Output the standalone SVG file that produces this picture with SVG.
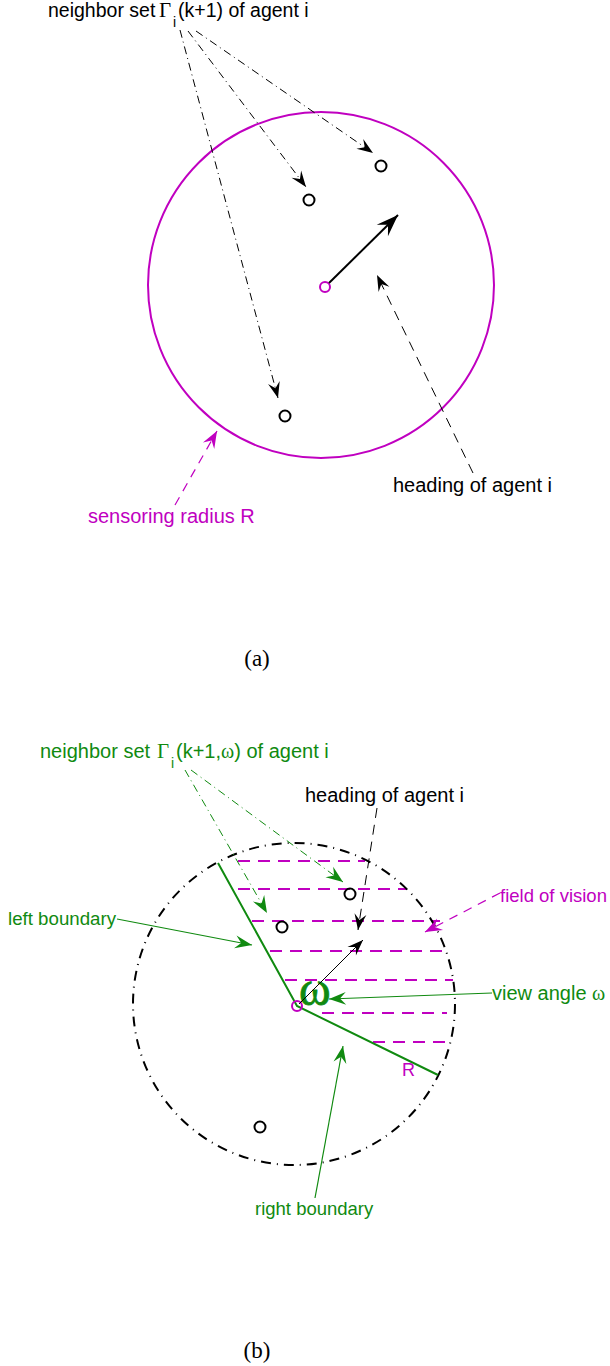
<svg xmlns="http://www.w3.org/2000/svg" width="610" height="1366" viewBox="0 0 610 1366">
<style>
.t{font-family:"Liberation Sans",Arial,sans-serif;}
.s{font-family:"Liberation Serif","Times New Roman",serif;}
.blk{fill:#000;}
.mag{fill:#c000c0;}
.grn{fill:#108a10;}
.dd{fill:none;stroke:#000;stroke-width:1;stroke-dasharray:8 4 1 4;}
.ddg{fill:none;stroke:#108a10;stroke-width:1;stroke-dasharray:8 4 1 4;}
.ds{fill:none;stroke:#000;stroke-width:1;stroke-dasharray:10 7;}
.dm{fill:none;stroke:#c000c0;stroke-width:1.2;stroke-dasharray:9 7;}
.hatch{fill:none;stroke:#c000c0;stroke-width:2;stroke-dasharray:12 8;}
.nb{fill:none;stroke:#000;stroke-width:2;}
.ag{fill:none;stroke:#c000c0;stroke-width:2;}
</style>
<defs>
<marker id="ahL" markerUnits="userSpaceOnUse" orient="auto" refX="0" refY="0" markerWidth="1" markerHeight="1" overflow="visible"><path d="M0,0 L-22,-8 L-14,0 L-22,8 Z" fill="#000"/></marker>
<marker id="ahB" markerUnits="userSpaceOnUse" orient="auto" refX="0" refY="0" markerWidth="1" markerHeight="1" overflow="visible"><path d="M0,0 L-16,-6 L-10,0 L-16,6 Z" fill="#000"/></marker>
<marker id="ahG" markerUnits="userSpaceOnUse" orient="auto" refX="0" refY="0" markerWidth="1" markerHeight="1" overflow="visible"><path d="M0,0 L-17,-6.5 L-11,0 L-17,6.5 Z" fill="#108a10"/></marker>
<marker id="ahM" markerUnits="userSpaceOnUse" orient="auto" refX="0" refY="0" markerWidth="1" markerHeight="1" overflow="visible"><path d="M0,0 L-17,-6.5 L-11,0 L-17,6.5 Z" fill="#c000c0"/></marker>
</defs>

<!-- Part (a) -->
<g id="a-sensing-circle"><circle cx="321" cy="285" r="173" fill="none" stroke="#c000c0" stroke-width="2"/></g>
<g id="a-agent"><circle cx="325" cy="287" r="5" class="ag"/></g>
<g id="a-neighbor1"><circle cx="381" cy="166" r="5.5" class="nb"/></g>
<g id="a-neighbor2"><circle cx="309" cy="200" r="5.5" class="nb"/></g>
<g id="a-neighbor3"><circle cx="285" cy="416" r="5.5" class="nb"/></g>
<g id="a-label-neighbor">
<text class="t blk" font-size="19.5" x="48" y="17">neighbor set</text>
<text class="s blk" font-size="21" x="159" y="17">Γ</text>
<text class="t blk" font-size="14" x="173" y="27">i</text>
<text class="t blk" font-size="19.5" x="178" y="17">(k+1) of agent i</text>
</g>
<g id="a-label-heading"><text class="t blk" font-size="20" x="393" y="492">heading of agent i</text></g>
<g id="a-label-radius"><text class="t mag" font-size="20" x="88" y="523">sensoring radius R</text></g>
<g id="a-caption"><text class="s blk" font-size="23" x="257" y="666" text-anchor="middle">(a)</text></g>

<g id="a-connectors">
<line x1="180" y1="30" x2="278" y2="398" class="dd" marker-end="url(#ahB)"/>
<line x1="188" y1="31" x2="306" y2="187" class="dd" marker-end="url(#ahB)"/>
<line x1="196" y1="31" x2="373" y2="153" class="dd" marker-end="url(#ahB)"/>
<line x1="473" y1="473" x2="377" y2="275" class="ds" marker-end="url(#ahB)"/>
<line x1="175" y1="505" x2="217" y2="431" class="dm" marker-end="url(#ahM)"/>
<line x1="329" y1="283" x2="398" y2="215" stroke="#000" stroke-width="2" marker-end="url(#ahL)"/>
</g>

<!-- Part (b) -->
<g id="b-field-hatch">
<line x1="238" y1="861" x2="365" y2="861" class="hatch"/>
<line x1="238" y1="889" x2="407" y2="889" class="hatch"/>
<line x1="252" y1="921" x2="440" y2="921" class="hatch"/>
<line x1="270" y1="951" x2="448" y2="951" class="hatch"/>
<line x1="285" y1="980" x2="453" y2="980" class="hatch"/>
<line x1="322" y1="1013" x2="447" y2="1013" class="hatch"/>
<line x1="373" y1="1042" x2="448" y2="1042" class="hatch"/>
</g>
<g id="b-sensing-circle"><circle cx="294" cy="1004" r="161" fill="none" stroke="#000" stroke-width="2" stroke-dasharray="10 6 1 6"/></g>
<g id="b-boundaries"><polyline points="218,863 297,1006 438,1075" fill="none" stroke="#108a10" stroke-width="2"/></g>
<g id="b-agent"><circle cx="297" cy="1006" r="5" class="ag"/></g>
<g id="b-neighbor1"><circle cx="350" cy="894" r="5.5" class="nb"/></g>
<g id="b-neighbor2"><circle cx="282" cy="927" r="5.5" class="nb"/></g>
<g id="b-neighbor3"><circle cx="260" cy="1127" r="5.5" class="nb"/></g>
<g id="b-omega"><text class="s grn" font-size="48" x="299" y="1005" stroke="#108a10" stroke-width="0.8">ω</text></g>
<g id="b-label-R"><text class="t mag" font-size="18" x="402" y="1076">R</text></g>
<g id="b-label-neighbor">
<text class="t grn" font-size="20" x="40" y="758">neighbor set</text>
<text class="s grn" font-size="21" x="157" y="758">Γ</text>
<text class="t grn" font-size="14" x="171" y="768">i</text>
<text class="t grn" font-size="20" x="176" y="758">(k+1,<tspan class="s">ω</tspan>) of agent i</text>
</g>
<g id="b-label-heading"><text class="t blk" font-size="20" x="305" y="802">heading of agent i</text></g>
<g id="b-label-left"><text class="t grn" font-size="18.7" x="8" y="925">left boundary</text></g>
<g id="b-label-field"><text class="t mag" font-size="18.5" x="500" y="902">field of vision</text></g>
<g id="b-label-view"><text class="t grn" font-size="20" x="492" y="1000">view angle <tspan class="s">ω</tspan></text></g>
<g id="b-label-right"><text class="t grn" font-size="18.5" x="255" y="1215">right boundary</text></g>
<g id="b-caption"><text class="s blk" font-size="23" x="257" y="1358" text-anchor="middle">(b)</text></g>

<g id="b-connectors">
<line x1="185" y1="770" x2="267" y2="913" class="ddg" marker-end="url(#ahG)"/>
<line x1="191" y1="770" x2="343" y2="882" class="ddg" marker-end="url(#ahG)"/>
<line x1="377" y1="808" x2="358" y2="930" class="ds" marker-end="url(#ahB)"/>
<line x1="299" y1="1004" x2="363" y2="940" stroke="#000" stroke-width="1" marker-end="url(#ahB)"/>
<line x1="117" y1="919" x2="252" y2="945" stroke="#108a10" stroke-width="1.2" marker-end="url(#ahG)"/>
<line x1="492" y1="993" x2="329" y2="999" stroke="#108a10" stroke-width="1.2" marker-end="url(#ahG)"/>
<line x1="315" y1="1198" x2="343" y2="1046" stroke="#108a10" stroke-width="1.2" marker-end="url(#ahG)"/>
<line x1="500" y1="893" x2="425" y2="932" class="dm" marker-end="url(#ahM)"/>
</g>
</svg>
